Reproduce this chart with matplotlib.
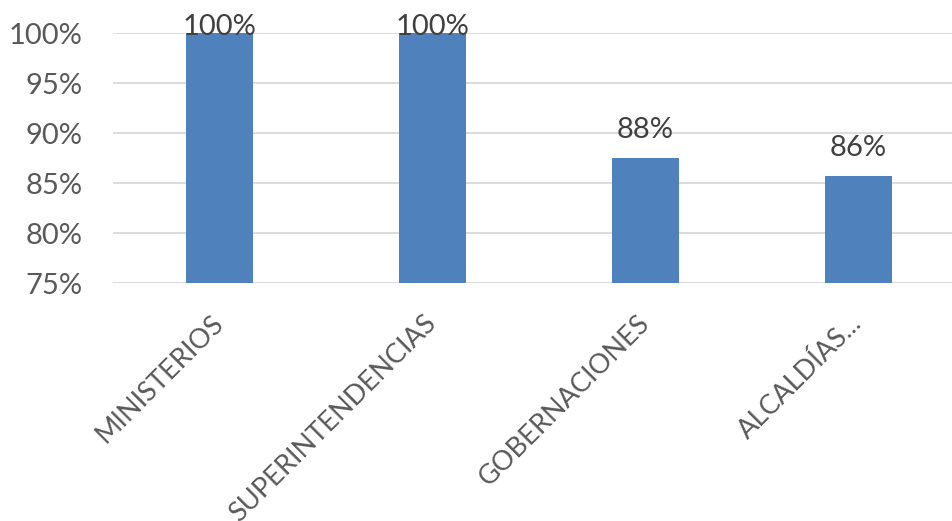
import matplotlib.pyplot as plt
from matplotlib.ticker import FuncFormatter
from matplotlib.transforms import ScaledTranslation

categories = ["MINISTERIOS", "SUPERINTENDENCIAS", "GOBERNACIONES", "ALCALDÍAS..."]
values = [100.0, 100.0, 87.5, 85.7]
labels = ["100%", "100%", "88%", "86%"]

plt.rcParams['font.family'] = ['Lato', 'DejaVu Sans']

fig = plt.figure(figsize=(9.53, 5.21), dpi=100)
ax = fig.add_axes([113 / 953, (521 - 283) / 521, (965 - 113) / 953, 250 / 521])

x = range(len(categories))
ax.bar(x, values, width=0.31, color="#4f81bd", zorder=3)

ax.set_ylim(75, 100)
ax.set_xlim(-0.5, 3.5)
ax.set_yticks([75, 80, 85, 90, 95, 100])
ax.yaxis.set_major_formatter(FuncFormatter(lambda v, p: f"{v:.0f}%"))
ax.grid(axis="y", color="#d9d9d9", linewidth=1.3, zorder=0)
for s in ax.spines.values():
    s.set_visible(False)
ax.tick_params(axis="both", length=0, labelcolor="#595959")
ax.tick_params(axis="y", pad=22, labelsize=21)

ax.set_xticks(list(x))
ax.set_xticklabels(categories, rotation=45, ha="right", va="top",
                   rotation_mode="anchor")
ax.tick_params(axis="x", pad=20, labelsize=19.5)
shift = ScaledTranslation(-9 / 100, 0, fig.dpi_scale_trans)
for t in ax.get_xticklabels():
    t.set_transform(t.get_transform() + shift)

for i, (v, lab) in enumerate(zip(values, labels)):
    off = -1.5 if v >= 99.5 else 14.4
    ax.annotate(lab, (i, v), xytext=(0, off), textcoords="offset points",
                ha="center", va="baseline", fontsize=21, color="#404040",
                zorder=4, annotation_clip=False)

fig.savefig("out.png", dpi=100)
